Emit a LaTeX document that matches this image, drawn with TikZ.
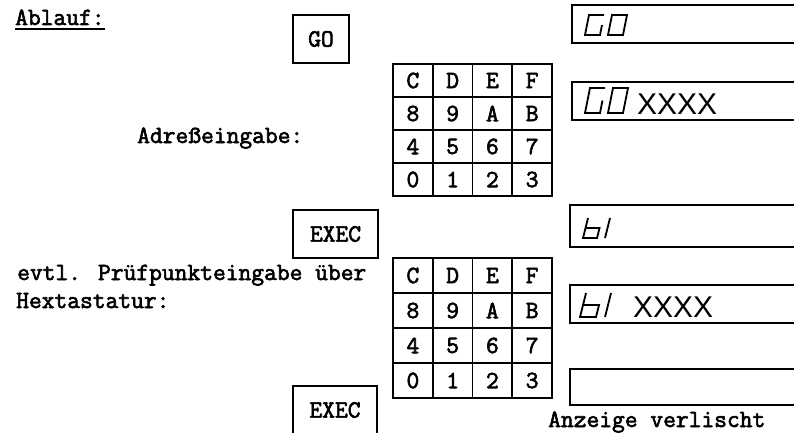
\documentclass[tikz,border=0pt]{standalone}
\usepackage{fontspec}
\setsansfont{Liberation Sans}
\newfontfamily\typew[FakeBold=2.5]{Latin Modern Mono}
\begin{document}
\begin{tikzpicture}[x=1pt,y=-1pt,
  txt/.style={font=\typew\fontsize{24.8}{28}\selectfont, inner sep=0pt},
  keybtn/.style={draw, line width=1.8pt, txt},
  cell/.style={draw, line width=1.8pt, minimum width=39.75pt, txt},
  frame/.style={line width=1.8pt},
  seg/.style={line width=1.8pt, line join=miter},
  disptxt/.style={font=\sffamily\fontsize{30}{32}\selectfont, inner sep=0pt}
]
\useasboundingbox (0,0) rectangle (794,433);

% title
\node[txt, anchor=base west] (ablauf) at (15,25) {Ablauf:};
\draw[line width=1.5pt] ([yshift=-4pt]ablauf.base west) -- ([yshift=-4pt]ablauf.base east);

% left texts
\node[txt, anchor=base west] (adr) at (137,143) {Adreßeingabe:};
\node[txt, anchor=base west] (evtl) at (17,280) {evtl. Prüfpunkteingabe über};
\node[txt, anchor=base west] (hex) at (16,308) {Hextastatur:};

% buttons
\node[keybtn, minimum width=56pt, minimum height=48pt] (go) at (321,39) {GO};
\node[keybtn, minimum width=85pt, minimum height=48pt] (exec1) at (335.5,234) {EXEC};
\draw[frame] (293,433) -- (293,386) -- (377,386) -- (377,433);
\node[txt] (exec2) at (335,410) {EXEC};

% keypads
\foreach \r/\labs in {0/{C,D,E,F},1/{8,9,A,B},2/{4,5,6,7},3/{0,1,2,3}} {
  \foreach \l [count=\c from 0] in \labs {
    \node[cell, minimum height=33pt] (ka-\r-\c) at ({412.9+39.75*\c},{80.5+33*\r}) {\l};
    \node[cell, minimum height=35pt] (kb-\r-\c) at ({412.9+39.75*\c},{275.5+35*\r}) {\l};
  }
}

% displays (open to the right)
\draw[frame] (794,5) -- (572,5) -- (572,43) -- (794,43);
\draw[frame] (794,82) -- (572,82) -- (572,120) -- (794,120);
\draw[frame] (794,205) -- (570,205) -- (570,247) -- (794,247);
\draw[frame] (794,285) -- (570,285) -- (570,323) -- (794,323);
\draw[frame] (794,369) -- (570,369) -- (570,405) -- (794,405);

% display 1: GO
\begin{scope}[shift={(585,35)}, xslant=0.2]
  \draw[seg] (15,-20) -- (0,-20) -- (0,0) -- (15,0) -- (15,-10);
  \draw[seg] (23,0) rectangle (38,-20);
\end{scope}
% display 2: GO XXXX
\begin{scope}[shift={(585,113)}, xslant=0.2]
  \draw[seg] (15,-25) -- (0,-25) -- (0,0) -- (15,0) -- (15,-12.5);
  \draw[seg] (23,0) rectangle (38,-25);
\end{scope}
\node[disptxt, anchor=base west] (x2) at (637,114) {XXXX};
% display 3: bl
\begin{scope}[shift={(583,238)}, xslant=0.25]
  \draw[seg] (0,-20) -- (0,0) -- (14,0) -- (14,-10) -- (0,-10);
  \draw[seg] (22,0) -- (22,-20);
\end{scope}
% display 4: bl XXXX
\begin{scope}[shift={(580,317)}, xslant=0.25]
  \draw[seg] (0,-24) -- (0,0) -- (16,0) -- (16,-12) -- (0,-12);
  \draw[seg] (25,0) -- (25,-24);
\end{scope}
\node[disptxt, anchor=base west] (x4) at (633,317) {XXXX};

\node[txt, anchor=base west] (anz) at (548,427) {Anzeige verlischt};
\end{tikzpicture}
\end{document}
